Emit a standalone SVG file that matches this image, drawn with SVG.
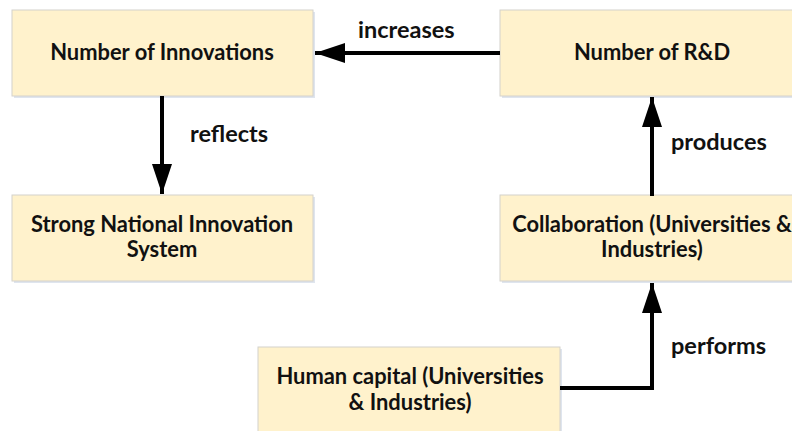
<svg xmlns="http://www.w3.org/2000/svg" width="792" height="431" viewBox="0 0 792 431">
<style>
.box{fill:#FFF2CC;stroke:#D4D2CC;stroke-width:1}
.shadow{fill:#C9D3E2;opacity:0.6}
.t{font-family:Lato,"Open Sans","Liberation Sans",sans-serif;font-weight:bold;font-size:21.9px;fill:#111;text-anchor:middle}
.lbl{font-family:Lato,"Open Sans","Liberation Sans",sans-serif;font-weight:bold;font-size:23.5px;fill:#111;text-anchor:start}
.c{fill:none;stroke:#000;stroke-width:4}
</style>
<defs>
<marker id="ah" viewBox="0 0 30 20" refX="30" refY="10" markerWidth="30" markerHeight="20" markerUnits="userSpaceOnUse" orient="auto">
<path d="M0,0 L30,10 L0,20 Z" fill="#000"/>
</marker>
</defs>
<rect width="792" height="431" fill="#fff"/>
<g id="n1">
<rect class="shadow" x="14" y="12" width="301" height="86"/>
<rect class="box" x="12" y="10" width="301" height="86"/>
<text class="t" x="162" y="60">Number of Innovations</text>
</g>
<g id="n2">
<rect class="shadow" x="14" y="197" width="301" height="86"/>
<rect class="box" x="12" y="195" width="301" height="86"/>
<text class="t" x="162" y="232">Strong National Innovation</text>
<text class="t" x="162" y="257">System</text>
</g>
<g id="n3">
<rect class="shadow" x="502" y="12" width="301" height="86"/>
<rect class="box" x="500" y="10" width="302" height="86"/>
<text class="t" x="652" y="60">Number of R&amp;D</text>
</g>
<g id="n4">
<rect class="shadow" x="502" y="197" width="301" height="86"/>
<rect class="box" x="500" y="195" width="302" height="86"/>
<text class="t" x="652" y="232">Collaboration (Universities &amp;</text>
<text class="t" x="652" y="257">Industries)</text>
</g>
<g id="n5">
<rect class="shadow" x="260" y="349" width="302" height="86"/>
<rect class="box" x="258" y="347" width="302" height="86"/>
<text class="t" x="410" y="384">Human capital (Universities</text>
<text class="t" x="410" y="410">&amp; Industries)</text>
</g>
<g id="connectors">
<path class="c" d="M500,53 L315,53" marker-end="url(#ah)"/>
<path class="c" d="M162,96 L162,194" marker-end="url(#ah)"/>
<path class="c" d="M652,196 L652,97" marker-end="url(#ah)"/>
<path class="c" d="M560,388 L652,388 L652,283" marker-end="url(#ah)"/>
<text class="lbl" x="358" y="38">increases</text>
<text class="lbl" x="190" y="142">reflects</text>
<text class="lbl" x="671" y="150">produces</text>
<text class="lbl" x="671" y="354">performs</text>
</g>
</svg>
